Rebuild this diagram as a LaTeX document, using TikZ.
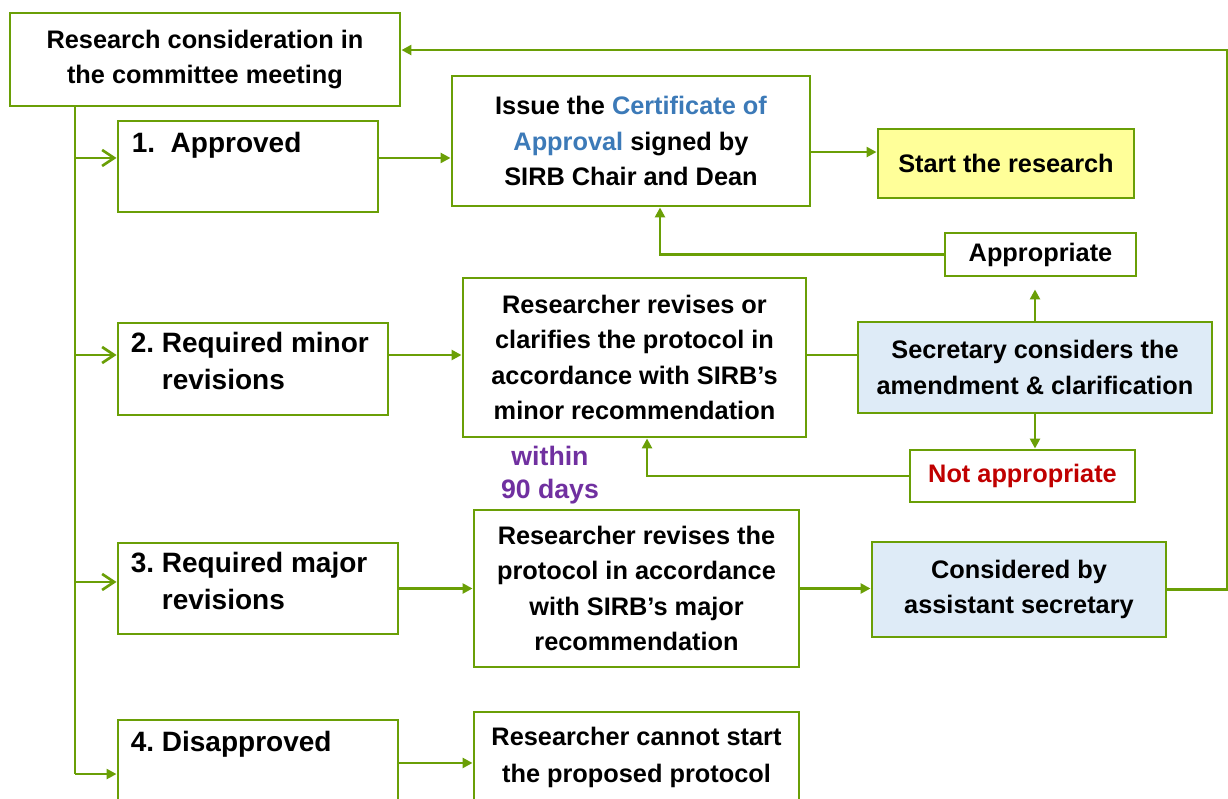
\documentclass[tikz,border=0pt]{standalone}
\usepackage{fontspec}
\setmainfont{Liberation Sans}
\usetikzlibrary{arrows.meta}
\definecolor{boxgreen}{HTML}{6A9F06}
\definecolor{certblue}{HTML}{3C7AB8}
\definecolor{daypurple}{HTML}{7030A0}
\definecolor{notred}{HTML}{C00000}
\definecolor{secblue}{HTML}{DEEBF7}
\definecolor{startyellow}{HTML}{FFFF99}
\frenchspacing

\begin{document}
\begin{tikzpicture}[x=0.75pt, y=-0.75pt,
    box/.style={draw=boxgreen, line width=2.2pt, fill=white, inner sep=0pt, align=center,
      font=\fontsize{19}{26.6}\selectfont\bfseries},
    lbox/.style={draw=boxgreen, line width=2.2pt, fill=white, inner sep=0pt},
    ltext/.style={anchor=north west, inner sep=0pt, align=left,
      font=\fontsize{21}{27.75}\selectfont\bfseries},
    link/.style={draw=boxgreen, line width=2pt},
    arr/.style={link, -{Triangle[length=7.5pt,width=7.5pt]}},
    branch/.style={link, -{Straight Barb[length=9pt,width=12pt]}}]
        \useasboundingbox (0,0) rectangle (1228,799);
        \clip (0,0) rectangle (1228,799);
        % Meeting
        \node[box, minimum width=292.5pt, minimum height=69.75pt] (meet) at (205,59.5)
          {Research consideration in\\the committee meeting};
        % Decisions
        \node[lbox, minimum width=195pt, minimum height=68.25pt] (appd) at (248,166.5) {};
        \node[ltext] (appdt) at ([shift={(11.25pt,-9pt)}]appd.north west) {1.\ \ Approved};
        \node[lbox, minimum width=202.5pt, minimum height=69pt] (minor) at (253,369) {};
        \node[ltext] (minort) at ([shift={(10.5pt,-7.5pt)}]minor.north west)
          {2. Required minor\\\phantom{2.}\ revisions};
        \node[lbox, minimum width=210pt, minimum height=68.25pt] (major) at (258,588.5) {};
        \node[ltext] (majort) at ([shift={(10.5pt,-7.5pt)}]major.north west)
          {3. Required major\\\phantom{3.}\ revisions};
        \node[lbox, minimum width=210pt, minimum height=68.25pt] (disap) at (258,765.5) {};
        \node[ltext] (disapt) at ([shift={(10.5pt,-9pt)}]disap.north west) {4. Disapproved};
        % Approved branch
        \node[box, minimum width=268.5pt, minimum height=97.5pt] (cert) at (631,141)
          {Issue the \textcolor{certblue}{Certificate of}\\\textcolor{certblue}{Approval} signed by\\SIRB Chair and Dean};
        \node[box, fill=startyellow, minimum width=192pt, minimum height=51.75pt] (start) at (1006,163.5)
          {Start the research};
        % Minor branch
        \node[box, minimum width=143.25pt, minimum height=32.25pt] (appr) at (1040.5,254.5) {Appropriate};
        \node[box, minimum width=257.25pt, minimum height=119.25pt] (minrev) at (634.5,357.5)
          {Researcher revises or\\clarifies the protocol in\\accordance with SIRB’s\\minor recommendation};
        \node[box, fill=secblue, minimum width=265.5pt, minimum height=68.25pt] (sec) at (1035,367.5)
          {Secretary considers the\\amendment \& clarification};
        \node[box, text=notred, minimum width=168.75pt, minimum height=39pt] (notappr) at (1022.5,476)
          {Not appropriate};
        \node[align=center, text=daypurple, font=\fontsize{20}{25}\selectfont\bfseries] (days) at (550,475)
          {within\\90 days};
        % Major branch
        \node[box, minimum width=243.75pt, minimum height=117.75pt] (majrev) at (636.5,588.5)
          {Researcher revises the\\protocol in accordance\\with SIRB’s major\\recommendation};
        \node[box, fill=secblue, minimum width=220.5pt, minimum height=71.25pt] (asst) at (1019,589.5)
          {Considered by\\assistant secretary};
        % Disapproved branch
        \node[box, font=\fontsize{19}{27.75}\selectfont\bfseries, minimum width=243.75pt, minimum height=67.5pt]
          (cannot) at (636.5,757) {Researcher cannot start\\the proposed protocol};
        % Trunk and branches
        \coordinate (trunk) at (75,774);
        \draw[link] (trunk |- meet.south) -- (trunk);
        \draw[branch] ([yshift=6.4pt]appd.west -| trunk) -- ([yshift=6.4pt]appd.west);
        \draw[branch] ([yshift=10.5pt]minor.west -| trunk) -- ([yshift=10.5pt]minor.west);
        \draw[branch] ([yshift=4.9pt]major.west -| trunk) -- ([yshift=4.9pt]major.west);
        \draw[arr] ([yshift=-6.4pt]disap.west -| trunk) -- ([yshift=-6.4pt]disap.west);
        % Approved path
        \draw[arr] ([yshift=6.4pt]appd.east) -- ([yshift=6.4pt]appd.east -| cert.west);
        \draw[arr] ([yshift=8.6pt]start.west -| cert.east) -- ([yshift=8.6pt]start.west);
        % Minor path
        \draw[arr] ([yshift=10.5pt]minor.east) -- ([yshift=10.5pt]minor.east -| minrev.west);
        \draw[link] ([yshift=1.9pt]minrev.east) -- ([yshift=1.9pt]minrev.east -| sec.west);
        \draw[arr, shorten >=9pt] (sec.north) -- (sec.north |- appr.south);
        \draw[arr] (appr.west) -| ([xshift=21.75pt]cert.south);
        \draw[arr] (sec.south) -- (sec.south |- notappr.north);
        \draw[arr] (notappr.west) -| ([xshift=9.4pt]minrev.south);
        % Major path
        \draw[arr] (major.east) -- (major.east -| majrev.west);
        \draw[arr] (majrev.east) -- (majrev.east -| asst.west);
        \draw[arr] (asst.east) -- ++(45pt,0) |- ([yshift=7.1pt]meet.east);
        % Disapproved path
        \draw[arr] ([yshift=1.9pt]disap.east) -- ([yshift=1.9pt]disap.east -| cannot.west);
      \end{tikzpicture}
\end{document}
